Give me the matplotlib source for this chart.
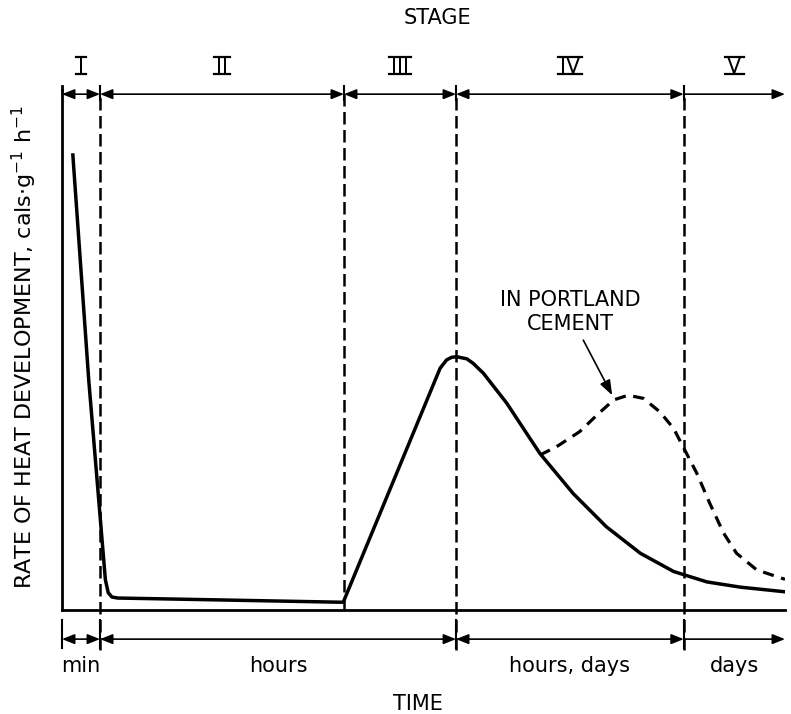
import matplotlib
matplotlib.use("Agg")
import matplotlib.pyplot as plt

plt.rcParams['font.family'] = ['DejaVu Sans']

# schematic units: time 0..100 across the axis, rate 0..100 up the axis
stage_edges = [0, 5.26, 39.0, 54.5, 86.0, 100]
stage_names = ['I', 'II', 'III', 'IV', 'V']
time_edges = [0, 5.26, 54.5, 86.0, 100]
time_names = ['min', 'hours', 'hours, days', 'days']

heat_x = [1.5, 3.7, 6.0, 6.4, 6.9, 7.7, 15.6, 38.4, 38.9, 52.3, 53.2, 53.9, 54.6,
          56.0, 56.9, 58.3, 61.5, 66.1, 70.7, 75.3, 80.0, 84.6, 89.2, 93.8, 100.0]
heat_y = [87.5, 44.2, 5.8, 3.3, 2.5, 2.3, 2.1, 1.5, 1.5, 46.5, 48.1, 48.6, 48.7,
          48.3, 47.4, 45.5, 39.8, 30.1, 22.4, 16.0, 10.9, 7.4, 5.4, 4.4, 3.5]

portland_x = [66.1, 68.4, 71.6, 74.0, 76.3, 78.3, 80.4, 82.7, 84.6, 85.9, 87.8,
              89.6, 91.5, 93.3, 96.1, 100.0]
portland_y = [29.8, 31.4, 34.3, 37.5, 40.4, 41.3, 40.7, 38.1, 34.9, 31.4, 26.3,
              20.5, 14.8, 10.9, 7.7, 5.9]

fig = plt.figure(figsize=(7.91, 7.14), dpi=100)
ax = fig.add_axes([62 / 791, 104 / 714, 723 / 791, 520 / 714])
ax.set_xlim(0, 100)
ax.set_ylim(0, 100)
for s in ['top', 'right']:
    ax.spines[s].set_visible(False)
for s in ['left', 'bottom']:
    ax.spines[s].set_linewidth(2.0)
ax.set_xticks([])
ax.set_yticks([])

fs = 15
top_y = 99.2
bot_y = -5.6

# stage dividers
for x in stage_edges[1:-1]:
    low = 0 if x == 39.0 else -7.7
    ax.plot([x, x], [low, top_y], color='k', lw=1.8, ls=(0, (5, 2.2)), clip_on=False)
    ax.plot([x, x], [98.1, 100.8], color='k', lw=1.5, clip_on=False)
for x in time_edges[:-1]:
    ax.plot([x, x], [-1.9, -7.3], color='k', lw=1.5, clip_on=False)
ax.plot([0, 0], [100, 100.8], color='k', lw=2.0, clip_on=False)

arrow_kw = dict(color='k', lw=1.2, shrinkA=0, shrinkB=0, mutation_scale=15)


def arrow_row(edges, y):
    for i in range(len(edges) - 1):
        style = '<|-|>' if i < len(edges) - 2 else '-|>'
        ax.annotate('', xy=(edges[i + 1], y), xytext=(edges[i], y),
                    arrowprops=dict(arrowstyle=style + ',head_length=0.5,head_width=0.2',
                                    **arrow_kw),
                    annotation_clip=False)


arrow_row(stage_edges, top_y)
arrow_row(time_edges, bot_y)

# stage numerals with bars above and below
renderer = fig.canvas.get_renderer()
for i, name in enumerate(stage_names):
    cx = (stage_edges[i] + stage_edges[i + 1]) / 2
    t = ax.text(cx, 103.2, name, ha='center', va='baseline', fontsize=fs)
    bb = t.get_window_extent(renderer).transformed(ax.transData.inverted())
    for yb in [103.0, 106.3]:
        ax.plot([bb.x0 - 0.3, bb.x1 + 0.3], [yb, yb], color='k', lw=1.6, clip_on=False)

for i, name in enumerate(time_names):
    cx = (time_edges[i] + time_edges[i + 1]) / 2
    ax.text(cx, -11.9, name, ha='center', va='baseline', fontsize=fs)

ax.text(51.9, 113.8, 'STAGE', ha='center', va='center', fontsize=fs)
ax.text(49.2, -18.1, 'TIME', ha='center', va='center', fontsize=fs)

ax.plot(heat_x, heat_y, color='k', lw=2.5, solid_joinstyle='round')
ax.plot(portland_x, portland_y, color='k', lw=2.3, ls=(0, (3.5, 2.4)))

ax.text(70.3, 57.3, 'IN PORTLAND\nCEMENT', ha='center', va='center', fontsize=fs,
        linespacing=1.2)
ax.annotate('', xy=(76.1, 41.3), xytext=(72.1, 51.9),
            arrowprops=dict(arrowstyle='-|>,head_length=0.6,head_width=0.22',
                            **arrow_kw))

fig.text(24 / 791, 1 - 347 / 714,
         r'RATE OF HEAT DEVELOPMENT, cals$\cdot$g$^{-1}$ h$^{-1}$',
         rotation=90, ha='center', va='center', fontsize=16)

fig.savefig('out.png', dpi=100)
